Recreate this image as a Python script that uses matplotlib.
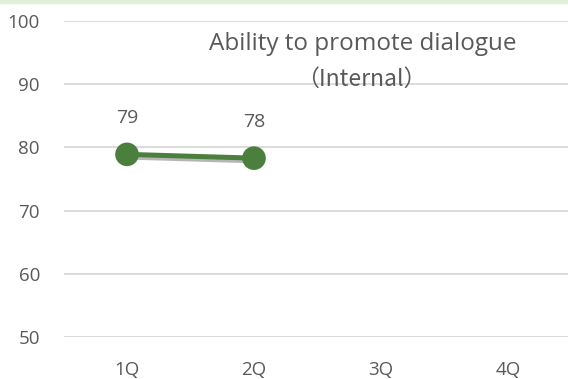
import matplotlib
matplotlib.use("Agg")
import matplotlib.pyplot as plt
import matplotlib.patheffects as pe
from matplotlib.patches import Rectangle

quarters = ["1Q", "2Q", "3Q", "4Q"]
scores = [78.9, 78.3]
yticks = [50, 60, 70, 80, 90, 100]
title_main = "Ability to promote dialogue"
title_sub = "（Internal）"

TEXT = "#595959"
GREEN = "#4b7f3e"
GRID = "#d9d9d9"
FONT = ["Open Sans", "Noto Sans CJK JP", "DejaVu Sans"]

plt.rcParams["font.family"] = FONT

W, H = 568, 379
fig = plt.figure(figsize=(W / 100, H / 100), dpi=100)
fig.patches.append(Rectangle((0, 1 - 2.5 / H), 1, 2.5 / H, transform=fig.transFigure,
                             color="#e2efda", zorder=0))

ax = fig.add_axes([63.5 / W, 42 / H, 508 / W, 316 / H])
ax.set_xlim(-0.5, len(quarters) - 0.5)
ax.set_ylim(50, 100)
ax.set_yticks(yticks)
ax.set_xticks(range(len(quarters)))
ax.set_xticklabels(quarters)
for s in ax.spines.values():
    s.set_visible(False)
ax.tick_params(length=0, colors=TEXT, labelsize=13.5)
ax.tick_params(axis="y", pad=17)
ax.tick_params(axis="x", pad=17)
ax.grid(axis="y", color=GRID, linewidth=1.3)
ax.set_axisbelow(True)

x = list(range(len(scores)))
shadow = [pe.SimpleLineShadow(offset=(2, -2), shadow_color="#6f6f6f", alpha=0.5),
          pe.Normal()]
ax.plot(x, scores, color=GREEN, linewidth=3.6, marker="o", markersize=17,
        markeredgewidth=0, path_effects=shadow, zorder=3, clip_on=False)

for xi, v in zip(x, scores):
    ax.annotate(f"{v:.0f}", (xi, v), xytext=(0, 26), textcoords="offset points",
                ha="center", va="center", color=TEXT, fontsize=14)

ax.text(363 / W, 1 - 44 / H, title_main, transform=fig.transFigure, ha="center",
        va="center", color=TEXT, fontsize=17.5)
ax.text(361 / W, 1 - 79 / H, title_sub, transform=fig.transFigure, ha="center",
        va="center", color=TEXT, fontsize=16.5,
        family=["Noto Sans CJK JP", "Open Sans"])

fig.savefig("out.png", dpi=100)
